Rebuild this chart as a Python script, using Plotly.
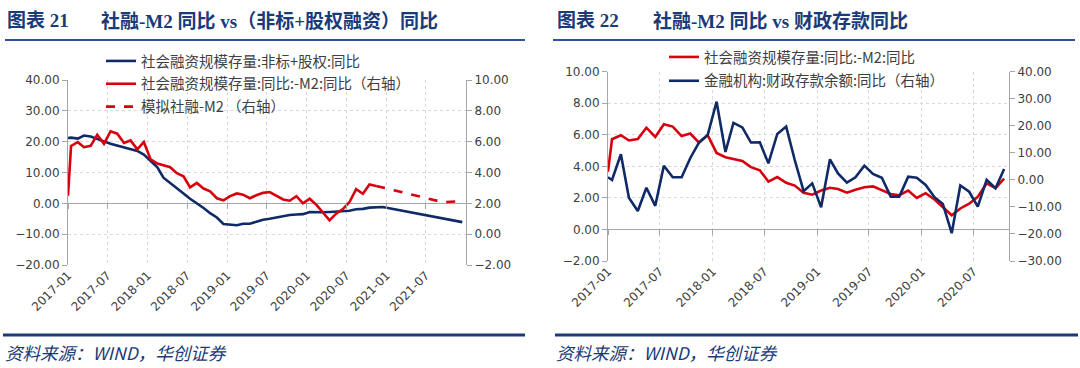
import pandas as pd
import plotly.graph_objects as go

W, H = 1080, 368

# ---------------- data ----------------
# monthly categories (2017-01 .. 2021-12)
months = pd.period_range("2017-01", "2021-12", freq="M").strftime("%Y-%m").tolist()
tick_months = ["2017-01", "2017-07", "2018-01", "2018-07", "2019-01", "2019-07",
               "2020-01", "2020-07", "2021-01", "2021-07"]
tick_months_r = tick_months[:8]

# 社会融资规模存量:同比 - M2:同比 (2017-01 .. 2020-11)
tsf_m2 = [5.72, 5.97, 5.64, 5.73, 6.45, 5.86, 6.67, 6.52, 5.92, 6.08, 5.50, 5.98,
          4.85, 4.58, 4.47, 4.34, 3.95, 3.75, 3.03, 3.32, 2.96, 2.78, 2.33, 2.20,
          2.47, 2.64, 2.56, 2.33, 2.52, 2.68, 2.73, 2.47, 2.25, 2.17, 2.47, 2.00,
          2.30, 1.90, 1.42, 0.90, 1.33, 1.63, 2.07, 2.92, 2.62, 3.22, 3.13]

# 模拟社融-M2 (projection)
sim_months = ["2020-11", "2021-09", "2021-12"]
sim_vals = [3.13, 2.08, 2.14]

# 社会融资规模存量:非标+股权:同比 (2017-01 .. 2020-12, then 2021-12)
nonstd_months = months[:48] + ["2021-12"]
nonstd = [21.3, 21.0, 22.0, 21.7, 21.0, 20.1, 19.3, 18.7, 18.0, 17.6, 17.0, 15.8,
          13.9, 11.7, 8.3, 6.6, 5.2, 3.2, 1.5, 0.1, -1.5, -3.2, -4.6, -6.7,
          -6.8, -7.1, -6.6, -6.6, -6.0, -5.3, -5.0, -4.6, -4.0, -3.8, -3.6, -3.5,
          -2.8, -2.9, -2.9, -2.8, -2.6, -2.6, -2.4, -1.9, -1.8, -1.4, -1.3, -1.2,
          -6.1]

# 金融机构:财政存款余额:同比 (2017-01 .. 2020-10)
fiscal = [-0.04, 9.46, -6.6, -11.5, -2.9, -9.6, 5.25, 0.96, 0.96, 8.0, 13.9, 16.6,
          28.9, 10.3, 21.1, 19.4, 13.8, 13.9, 6.1, 17.0, 19.7, 7.35, -4.2, -1.3,
          -10.1, 7.6, 2.4, -1.0, 0.96, 5.25, 2.2, 0.8, -6.2, -6.2, 1.2, 0.8,
          -1.9, -6.4, -8.9, -19.7, -2.1, -4.4, -9.9, 0.0, -3.1, 4.0]

# values where the lines meet the left axis edge
edge_left_red, edge_left_blue = 2.5, 21.2
edge_right_red, edge_right_blue = 3.66, 0.96

# ---------------- helpers ----------------
def mid(ms):
    return (pd.to_datetime(ms) + pd.Timedelta(days=14)).tolist()

START = pd.Timestamp("2017-01-01")

def with_edge(ms, vals, edge):
    return [START] + mid(ms), [edge] + list(vals)

BLUE = "#0f2a66"
RED = "#d9000d"
GRID = "#d9d9d9"
AX = "#a6a6a6"
TXT = "#404040"
TITLE = "#1a3a78"
NUMFONT = "DejaVu Sans"
CJK = "Noto Sans CJK SC"

fig = go.Figure()

# left chart
x, y = with_edge(months[:len(nonstd) - 1], nonstd[:-1], edge_left_blue)
x = x + mid(nonstd_months[-1:])
y = y + nonstd[-1:]
fig.add_trace(go.Scatter(x=x, y=y, mode="lines", line=dict(color=BLUE, width=2.6),
                         name="社会融资规模存量:非标+股权:同比", xaxis="x", yaxis="y",
                         legend="legend", legendgroup="a"))
# carrier for the zero-line tick marks (invisible)
fig.add_trace(go.Scatter(x=x, y=y, mode="lines", opacity=0, showlegend=False,
                         hoverinfo="skip", xaxis="x3", yaxis="y"))
x, y = with_edge(months[:len(tsf_m2)], tsf_m2, edge_left_red)
fig.add_trace(go.Scatter(x=x, y=y, mode="lines", line=dict(color=RED, width=2.6),
                         name="社会融资规模存量:同比:-M2:同比（右轴）", xaxis="x", yaxis="y2",
                         legend="legend", legendgroup="b"))
fig.add_trace(go.Scatter(x=mid(sim_months), y=sim_vals, mode="lines",
                         line=dict(color=RED, width=2.6, dash="dash"),
                         name="模拟社融-M2 （右轴）", xaxis="x", yaxis="y2",
                         legend="legend", legendgroup="c"))

# right chart
n = len(fiscal)
x, y = with_edge(months[:n], tsf_m2[:n], edge_right_red)
fig.add_trace(go.Scatter(x=x, y=y, mode="lines", line=dict(color=RED, width=2.6),
                         name="社会融资规模存量:同比:-M2:同比", xaxis="x2", yaxis="y3",
                         legend="legend2", legendgroup="d"))
fig.add_trace(go.Scatter(x=x, y=y, mode="lines", opacity=0, showlegend=False,
                         hoverinfo="skip", xaxis="x4", yaxis="y3"))
x, y = with_edge(months[:n], fiscal, edge_right_blue)
fig.add_trace(go.Scatter(x=x, y=y, mode="lines", line=dict(color=BLUE, width=2.6),
                         name="金融机构:财政存款余额:同比（右轴）", xaxis="x2", yaxis="y4",
                         legend="legend2", legendgroup="e"))

def fx(p):
    return p / W

def fy(p):
    return 1 - p / H

L_dom_x = [fx(68), fx(466)]
L_dom_y = [fy(265), fy(80)]
R_dom_x = [fx(608), fx(1009)]
R_dom_y = [fy(261), fy(71.7)]
L_zero = L_dom_y[0] + (L_dom_y[1] - L_dom_y[0]) * (0 - (-20)) / 60
R_zero = R_dom_y[0] + (R_dom_y[1] - R_dom_y[0]) * (0 - (-2)) / 12

tickfont = dict(family=NUMFONT, size=12, color=TXT)

def xaxis(dom, anchor, end, ticks):
    return dict(domain=dom, anchor=anchor, type="date", automargin=False,
                range=[START, pd.Timestamp(end)],
                tickvals=pd.to_datetime(ticks).tolist(), ticktext=ticks,
                tickangle=-45, tickfont=tickfont, showgrid=True, gridcolor=GRID,
                griddash="dot", gridwidth=1, showline=False, ticks="",
                zeroline=False)

def xzero(over, end, ticks, pos):
    return dict(overlaying=over, anchor="free", position=pos, type="date",
                automargin=False, range=[START, pd.Timestamp(end)],
                tickvals=pd.to_datetime(ticks).tolist(), showticklabels=False,
                ticks="outside", ticklen=5, tickcolor=AX, showgrid=False,
                showline=False, zeroline=False)

def yleft(dom, anchor, rng, dt):
    return dict(domain=dom, anchor=anchor, range=rng, dtick=dt, tick0=0,
                automargin=False,
                tickformat=".2f", tickfont=tickfont, showgrid=True, gridcolor=GRID,
                griddash="dot", showline=True, linecolor=AX, linewidth=1,
                ticks="outside", ticklen=5, tickcolor=AX,
                zeroline=True, zerolinecolor=AX, zerolinewidth=1.3)

def yright(over, anchor, rng, dt):
    return dict(overlaying=over, anchor=anchor, side="right", range=rng, dtick=dt,
                automargin=False,
                tick0=0, tickformat=".2f", tickfont=tickfont, showgrid=False,
                showline=True, linecolor=AX, linewidth=1, ticks="outside",
                ticklen=5, tickcolor=AX, zeroline=False)

legfont = dict(family=CJK, size=14.5, color=TXT)

fig.update_layout(
    width=W, height=H, margin=dict(l=0, r=0, t=0, b=0, autoexpand=False),
    paper_bgcolor="white", plot_bgcolor="white", showlegend=True,
    xaxis=xaxis(L_dom_x, "y", "2022-01-01", tick_months),
    xaxis3=xzero("x", "2022-01-01", tick_months, L_zero),
    yaxis=yleft(L_dom_y, "x", [-20, 40], 10),
    yaxis2=yright("y", "x", [-2, 10], 2),
    xaxis2=xaxis(R_dom_x, "y3", "2020-11-01", tick_months_r),
    xaxis4=xzero("x2", "2020-11-01", tick_months_r, R_zero),
    yaxis3=yleft(R_dom_y, "x2", [-2, 10], 2),
    yaxis4=yright("y3", "x2", [-30, 40], 10),
    legend=dict(x=fx(101), y=fy(45), xanchor="left", yanchor="top",
                bgcolor="rgba(0,0,0,0)", font=legfont, tracegroupgap=1,
                traceorder="grouped"),
    legend2=dict(x=fx(664), y=fy(41), xanchor="left", yanchor="top",
                 bgcolor="rgba(0,0,0,0)", font=legfont, tracegroupgap=2,
                 traceorder="grouped"),
)

title_font = dict(family="Liberation Serif, " + CJK, size=19, color=TITLE)
src_font = dict(family=CJK, size=17.5, color=TITLE)

def ann(text, px, py, font):
    fig.add_annotation(text=text, xref="paper", yref="paper", x=fx(px), y=fy(py),
                       xanchor="left", yanchor="middle", showarrow=False, font=font)

ann("<b>图表 21</b>", 5, 21, title_font)
ann("<b>社融-M2 同比 vs（非标+股权融资）同比</b>", 99, 21, title_font)
ann("<b>图表 22</b>", 555, 21, title_font)
ann("<b>社融-M2 同比 vs 财政存款同比</b>", 651, 21, title_font)
ann("<i>资料来源：WIND，华创证券</i>", 3, 352, src_font)
ann("<i>资料来源：WIND，华创证券</i>", 554, 352, src_font)

def hline(x0, x1, py, width, color):
    fig.add_shape(type="line", xref="paper", yref="paper", x0=fx(x0), x1=fx(x1),
                  y0=fy(py), y1=fy(py), line=dict(color=color, width=width))

hline(5, 525, 40, 2, "#2c5597")
hline(553, 1075, 40, 2, "#2c5597")
hline(3, 525, 335, 3, TITLE)
hline(555, 1078, 335, 3, TITLE)

fig.write_html("out.html", config={"displayModeBar": False},
               post_script="document.body.style.margin='0px';"
                           "document.body.style.padding='0px';")
